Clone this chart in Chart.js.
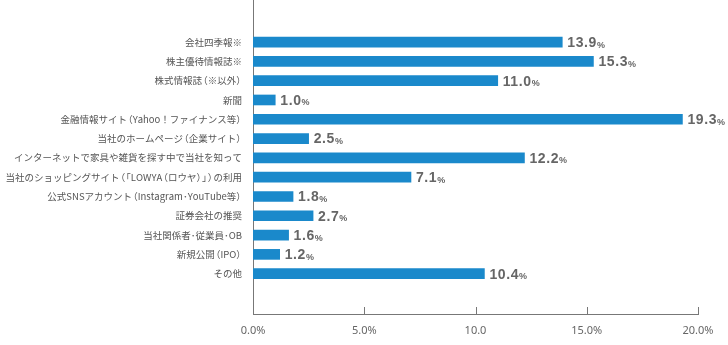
<!DOCTYPE html>
<html lang="ja">
<head>
    <meta charset="UTF-8">
    <title>情報源</title>
    <script src="https://cdn.jsdelivr.net/npm/chart.js"></script>
    <style>
        html, body { margin: 0; padding: 0; background: #fff; }
        #wrap { width: 728px; height: 345px; position: relative; }
    </style>
</head>
<body>
    <div id="wrap"><canvas id="chart"></canvas></div>
    <script>
        const categories = [
            '会社四季報※',
            '株主優待情報誌※',
            '株式情報誌（※以外）',
            '新聞',
            '金融情報サイト（Yahoo！ファイナンス等）',
            '当社のホームページ（企業サイト）',
            'インターネットで家具や雑貨を探す中で当社を知って',
            '当社のショッピングサイト（「LOWYA（ロウヤ）」）の利用',
            '公式SNSアカウント（Instagram･YouTube等）',
            '証券会社の推奨',
            '当社関係者･従業員･OB',
            '新規公開（IPO）',
            'その他'
        ];
        const values = [13.9, 15.3, 11.0, 1.0, 19.3, 2.5, 12.2, 7.1, 1.8, 2.7, 1.6, 1.2, 10.4];
        const xTicks = [0, 5, 10, 15, 20];
        const xTickLabels = ['0.0%', '5.0%', '10.0', '15.0%', '20.0%'];

        const BAR = '#1a89cb';
        const AXIS = '#777';
        const TEXT = '#555';
        const LABEL_FONT = '9.5px "Noto Sans CJK JP", sans-serif';

        // brackets are drawn narrower (like proportional CJK metrics)
        const OPEN = '（「';
        const CLOSE = '）」';

        function labelWidth(ctx, s) {
            let w = 0;
            for (const ch of s) {
                const cw = ctx.measureText(ch).width;
                w += (OPEN.includes(ch) || CLOSE.includes(ch)) ? cw * 0.6 : cw;
            }
            return w;
        }

        function drawLabel(ctx, s, right, y) {
            let x = right - labelWidth(ctx, s);
            for (const ch of s) {
                const cw = ctx.measureText(ch).width;
                if (OPEN.includes(ch)) {
                    ctx.fillText(ch, x - cw * 0.4, y);
                    x += cw * 0.6;
                } else if (CLOSE.includes(ch)) {
                    ctx.fillText(ch, x, y);
                    x += cw * 0.6;
                } else {
                    ctx.fillText(ch, x, y);
                    x += cw;
                }
            }
        }

        // category labels on the left
        const categoryLabels = {
            id: 'categoryLabels',
            afterDraw(chart) {
                const sy = chart.scales.y;
                const ctx = chart.ctx;
                ctx.save();
                ctx.font = LABEL_FONT;
                ctx.fillStyle = TEXT;
                ctx.textAlign = 'left';
                ctx.textBaseline = 'middle';
                categories.forEach((c, i) => {
                    drawLabel(ctx, c, sy.right - 11, sy.getPixelForValue(i));
                });
                ctx.restore();
            }
        };

        // value labels: bold number + small %
        const valueLabels = {
            id: 'valueLabels',
            afterDatasetsDraw(chart) {
                const ctx = chart.ctx;
                const meta = chart.getDatasetMeta(0);
                ctx.save();
                ctx.fillStyle = '#666';
                ctx.textBaseline = 'middle';
                meta.data.forEach((bar, i) => {
                    const txt = values[i].toFixed(1);
                    ctx.font = 'bold 14px "Liberation Sans", sans-serif';
                    ctx.letterSpacing = '0.6px';
                    const x = bar.x + 5;
                    ctx.fillText(txt, x, bar.y + 1);
                    const w = ctx.measureText(txt).width;
                    ctx.letterSpacing = '0px';
                    ctx.font = 'bold 9px "Liberation Sans", sans-serif';
                    ctx.fillText('%', x + w, bar.y + 3);
                });
                ctx.restore();
            }
        };

        // short tick marks pointing up from the bottom axis
        const innerTicks = {
            id: 'innerTicks',
            afterDraw(chart) {
                const sx = chart.scales.x;
                const ctx = chart.ctx;
                ctx.save();
                ctx.strokeStyle = AXIS;
                ctx.lineWidth = 1;
                xTicks.slice(1).forEach(v => {
                    const px = Math.round(sx.getPixelForValue(v)) + 0.5;
                    ctx.beginPath();
                    ctx.moveTo(px, sx.top);
                    ctx.lineTo(px, sx.top - 7);
                    ctx.stroke();
                });
                ctx.restore();
            }
        };

        new Chart(document.getElementById('chart'), {
            type: 'bar',
            data: {
                datasets: [{
                    data: values.map((v, i) => ({ x: v, y: i })),
                    backgroundColor: BAR,
                    barThickness: 10
                }]
            },
            options: {
                indexAxis: 'y',
                responsive: true,
                maintainAspectRatio: false,
                animation: false,
                layout: { padding: { top: 0, right: 30, bottom: 0, left: 0 } },
                plugins: {
                    legend: { display: false },
                    tooltip: { enabled: false }
                },
                scales: {
                    x: {
                        type: 'linear',
                        min: 0,
                        max: 20,
                        grid: { display: false, drawTicks: false },
                        border: { display: true, color: AXIS, width: 1 },
                        afterBuildTicks: s => { s.ticks = xTicks.map(v => ({ value: v })); },
                        afterFit: s => { s.height = 31; },
                        ticks: {
                            padding: 10,
                            color: '#666',
                            font: { size: 11, family: '"Noto Sans", "Liberation Sans", sans-serif' },
                            maxRotation: 0,
                            callback: (v) => xTickLabels[xTicks.indexOf(v)]
                        }
                    },
                    y: {
                        type: 'linear',
                        reverse: true,
                        offset: false,
                        min: -2.18,
                        max: 14.09,
                        grid: { display: false, drawTicks: false, offset: false },
                        border: { display: true, color: AXIS, width: 1 },
                        afterBuildTicks: s => { s.ticks = categories.map((c, i) => ({ value: i })); },
                        afterFit: s => { s.width = 253; s.paddingTop = 0; s.paddingBottom = 0; },
                        ticks: { display: false }
                    }
                }
            },
            plugins: [categoryLabels, valueLabels, innerTicks]
        });
    </script>
</body>
</html>
